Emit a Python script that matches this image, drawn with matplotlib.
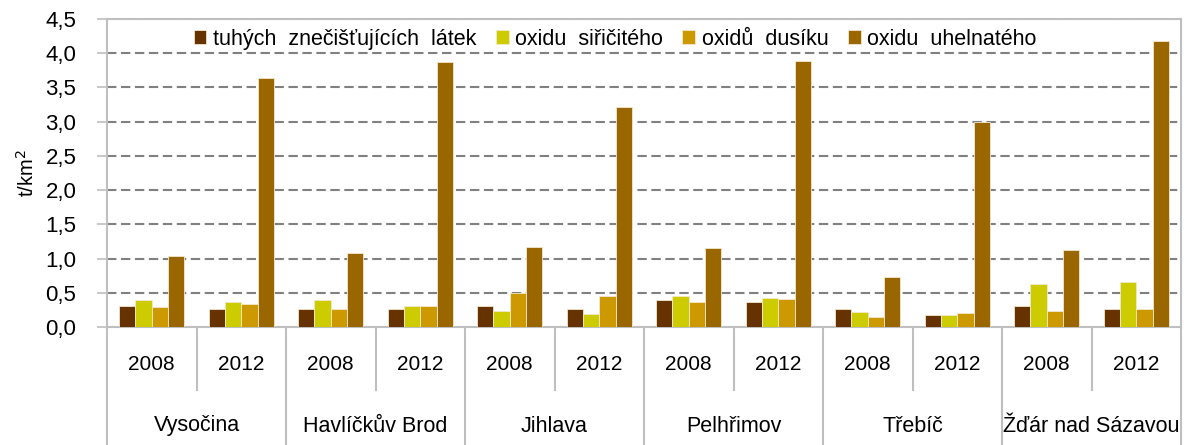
#importing libraries
import numpy as np
import matplotlib.pyplot as plt
from matplotlib.transforms import blended_transform_factory
from matplotlib.lines import Line2D

plt.rcParams['font.family'] = ['Liberation Sans', 'DejaVu Sans']

# data (t/km2)
regions = ['Vysočina', 'Havlíčkův Brod', 'Jihlava', 'Pelhřimov', 'Třebíč', 'Žďár nad Sázavou']
years = ['2008', '2012']
series_names = ['tuhých  znečišťujících  látek', 'oxidu  siřičitého', 'oxidů  dusíku', 'oxidu  uhelnatého']
colors = ['#663300', '#cccc00', '#cc9900', '#996600']

tuhe = [0.31, 0.27, 0.26, 0.27, 0.31, 0.27, 0.40, 0.37, 0.27, 0.18, 0.30, 0.27]
so2 = [0.40, 0.36, 0.40, 0.31, 0.24, 0.19, 0.46, 0.42, 0.22, 0.17, 0.63, 0.66]
nox = [0.29, 0.33, 0.26, 0.31, 0.50, 0.46, 0.37, 0.41, 0.14, 0.21, 0.23, 0.27]
co = [1.04, 3.64, 1.08, 3.87, 1.17, 3.22, 1.15, 3.89, 0.73, 3.00, 1.12, 4.18]
series = [tuhe, so2, nox, co]

fig = plt.figure(figsize=(11.84, 4.45), dpi=100)
ax = fig.add_axes([107/1184, 1 - 327/445, (1181 - 107)/1184, (327 - 19)/445])

x = np.arange(len(tuhe))
w = 1 / 5.5
for i in range(4):
    ax.bar(x + (i - 1.5) * w, series[i], w, color=colors[i], edgecolor='#f3e8cf',
           linewidth=0.6, label=series_names[i], zorder=3)

ax.set_xlim(-0.5, len(tuhe) - 0.5)
ax.set_ylim(0, 4.5)
ax.set_yticks(np.arange(0, 4.51, 0.5))
ax.set_yticklabels([('%.1f' % v).replace('.', ',') for v in np.arange(0, 4.51, 0.5)])
ax.tick_params(axis='y', labelsize=16, length=7, width=1.2, color='#bfbfbf', pad=15)
ax.set_xticks([])
for v in np.arange(0.5, 4.01, 0.5):
    ax.axhline(v, color='#808080', lw=1.5, ls=(0, (4.5, 2.2)), zorder=1)
ax.axhline(4.5, color='#c8c8c8', lw=1.5, ls=(0, (4.5, 2.2)), zorder=1)
for s in ['left', 'right', 'top', 'bottom']:
    ax.spines[s].set_color('#bfbfbf')
    ax.spines[s].set_linewidth(1.5)

fig.text(27/1184, 1 - 173/445, 't/km$^2$', rotation=90, ha='center', va='center', fontsize=14.5)

# category axis below the plot
tr = blended_transform_factory(ax.transData, fig.transFigure)
y0 = 1 - 327/445
for k in range(len(tuhe)):
    ax.text(k, 1 - 364/445, years[k % 2], transform=tr, ha='center', va='center', fontsize=15)
    if k % 2 == 1:
        fig.add_artist(Line2D([k + 0.5, k + 0.5], [y0, 0], transform=tr, color='#bfbfbf', lw=1.5))
    else:
        fig.add_artist(Line2D([k + 0.5, k + 0.5], [y0, 1 - 390/445], transform=tr, color='#bfbfbf', lw=1.5))
fig.add_artist(Line2D([-0.5, -0.5], [y0, 0], transform=tr, color='#bfbfbf', lw=1.5))
for j in range(len(regions)):
    ax.text(2 * j + 0.5, 1 - 426/445, regions[j], transform=tr, ha='center', va='center', fontsize=15.5)

ax.legend(loc='center', bbox_to_anchor=(0.473, 0.935), ncol=4, frameon=False, fontsize=15.5,
          handlelength=0.6, handleheight=0.6, handletextpad=0.3, columnspacing=0.9,
          borderaxespad=0)

plt.savefig('out.png', dpi=100)
